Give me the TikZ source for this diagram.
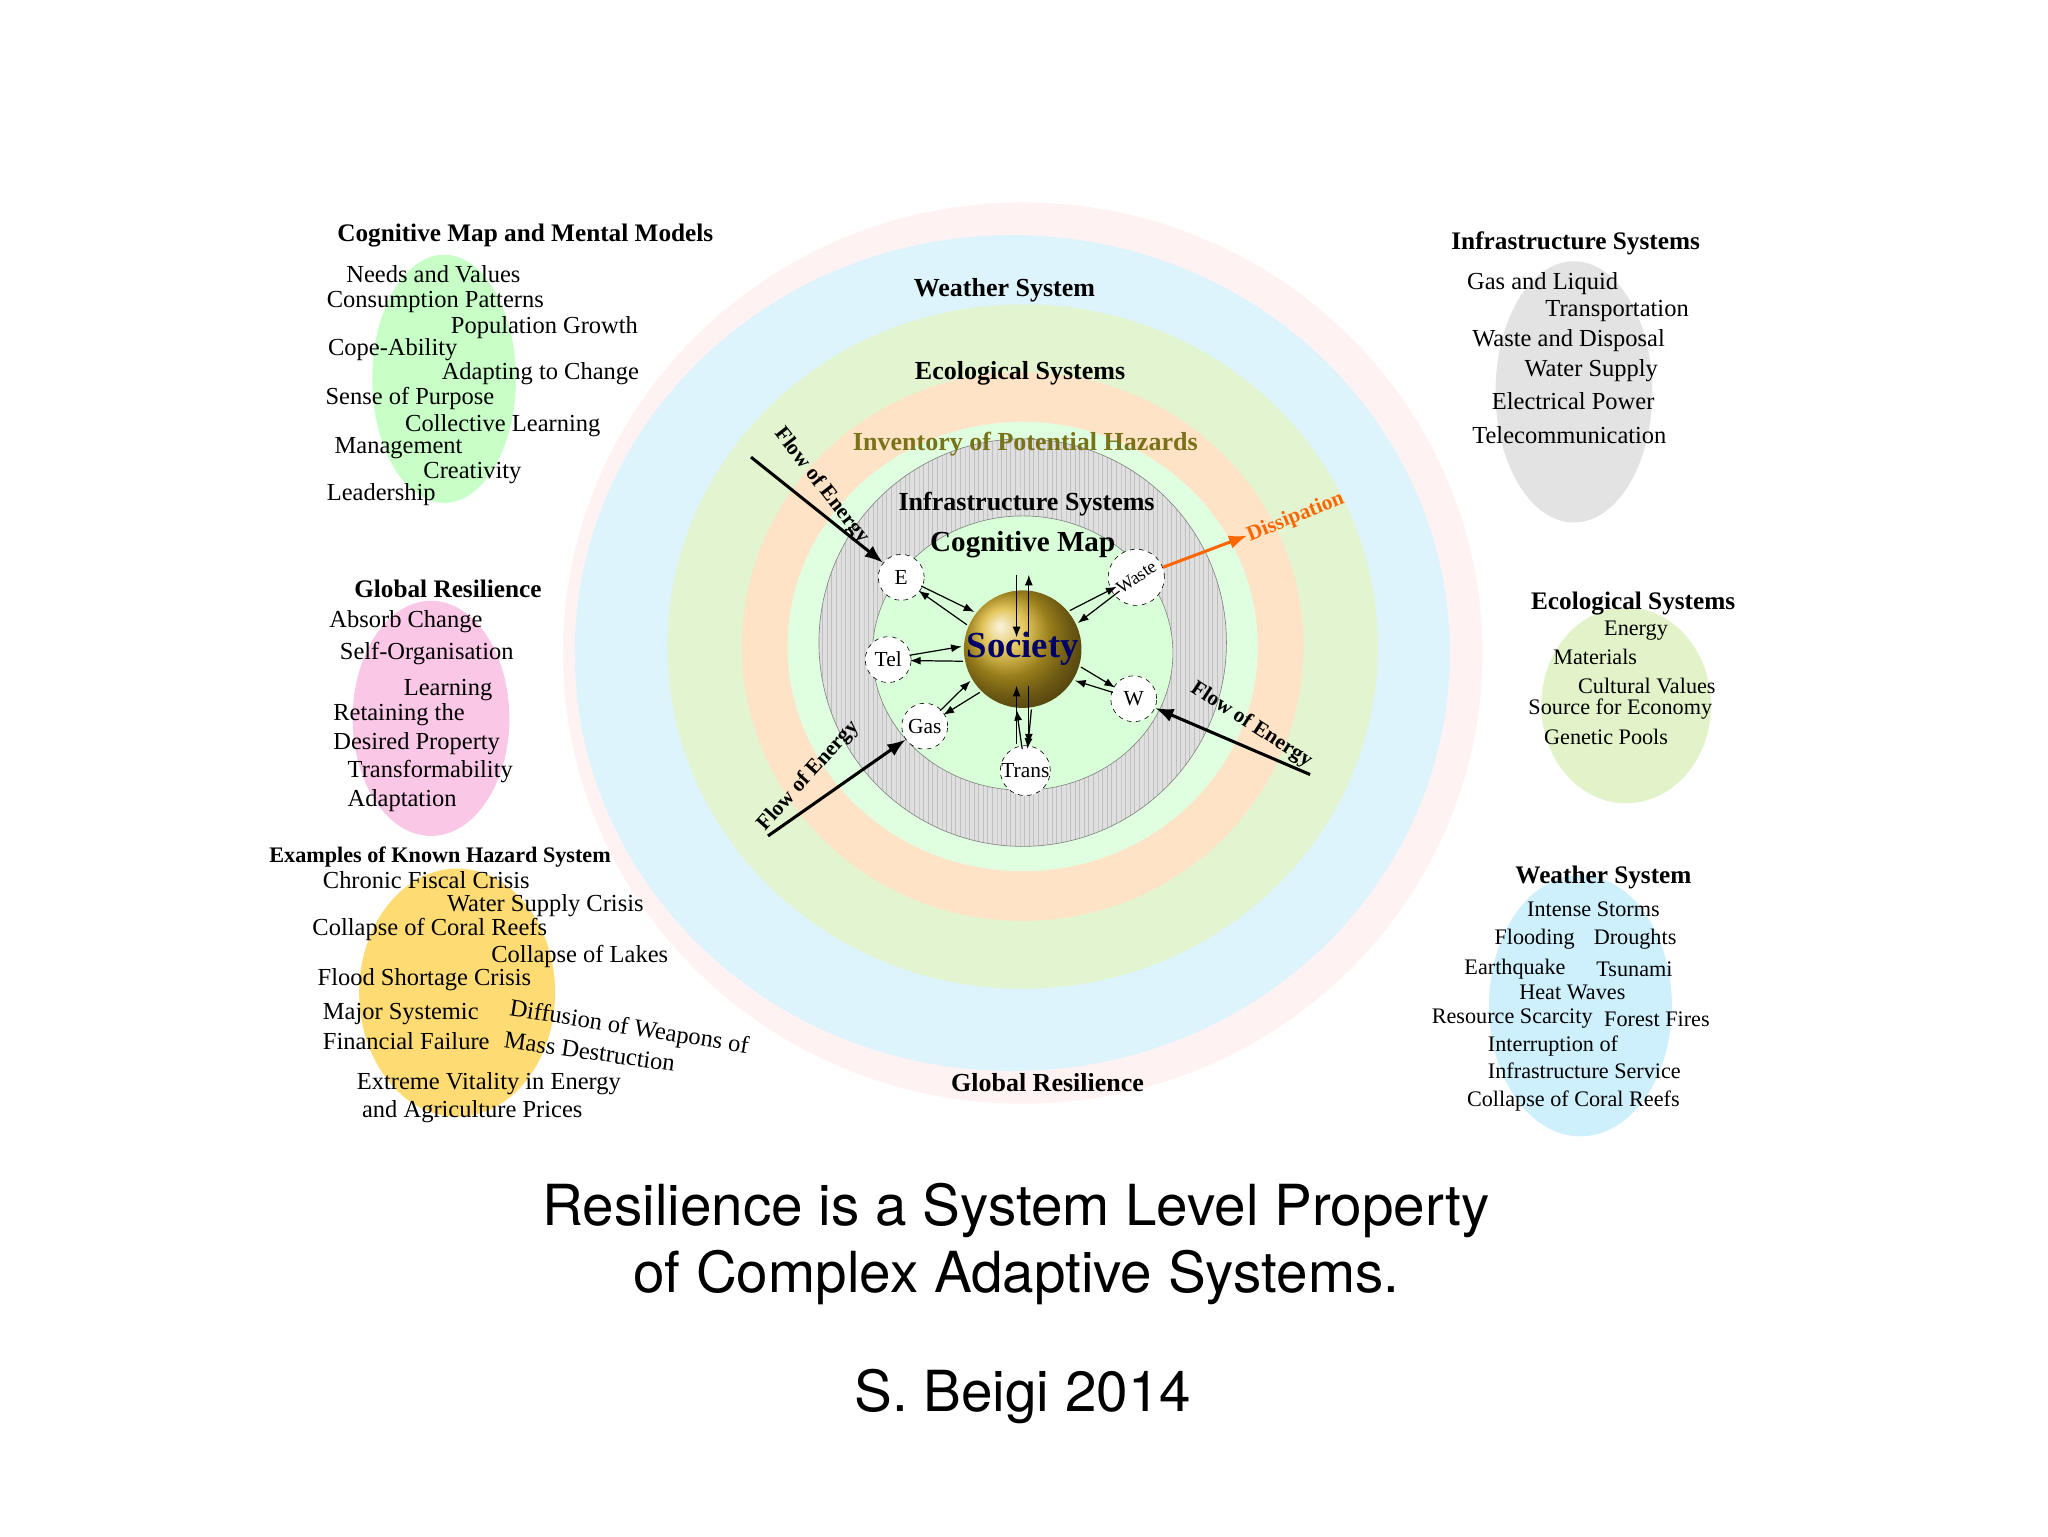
\documentclass[tikz,border=0pt]{standalone}
\usepackage{fontspec}
\setmainfont{Liberation Serif}
\newfontfamily\capfont{TeX Gyre Heros}
\usetikzlibrary{patterns,arrows.meta,shapes.geometric,calc}
\begin{document}
\begin{tikzpicture}[x=0.03cm,y=-0.03cm,
  t/.style={anchor=west,inner sep=0,font=\fontsize{16}{19}\selectfont},
  ts/.style={anchor=west,inner sep=0,font=\fontsize{14.5}{17}\selectfont},
  h/.style={anchor=west,inner sep=0,font=\fontsize{16.5}{20}\selectfont\bfseries},
  hc/.style={inner sep=0,font=\fontsize{17}{20}\selectfont\bfseries},
  sm/.style={circle,draw,dashed,fill=white,minimum size=30,inner sep=0,font=\fontsize{14}{16}\selectfont},
  arr/.style={-{Latex[length=7pt]},thick},
  flow/.style={-{Latex[length=12pt]},line width=2pt},
  fl/.style={inner sep=0,font=\fontsize{14}{16}\selectfont\bfseries},
  blob/.style={opacity=0.55}]
\useasboundingbox (0,0) rectangle (1568,1176);
% rings
\fill[pink!20] (783,500) ellipse (352 and 345);
\fill[cyan!13] (775,500) ellipse (335 and 320);
\fill[yellow!40!green!18] (783,495) ellipse (272 and 262);
\fill[orange!22] (783,495) ellipse (215 and 210);
\fill[green!12] (783,495) ellipse (180 and 172);
\fill[gray!25] (783,492) circle (156);
\fill[pattern=vertical lines,pattern color=gray!50] (783,492) circle (156);
\draw[gray] (783,492) circle (156);
\fill[green!15!white,draw=gray] (783,500) ellipse (115 and 105);
\shade[ball color=brown!60!yellow] (783,497) circle (45);
% blobs
\fill[blob,green!40] (340,290) ellipse (55 and 95);
\fill[blob,magenta!40] (330,550) ellipse (60 and 90);
\fill[blob,orange!50!yellow] (350,760) ellipse (75 and 95);
\fill[blob,gray!40] (1205,300) ellipse (60 and 100);
\fill[blob,yellow!50!green!40] (1245,540) ellipse (65 and 75);
\fill[blob,cyan!35] (1210,770) ellipse (70 and 100);
% center labels
\node[hc] (ws) at (769,222) {Weather System};
\node[hc] (es) at (781,286) {Ecological Systems};
\node[hc,text=olive!80!black] (iph) at (785,340) {Inventory of Potential Hazards};
\node[hc] (is) at (786,386) {Infrastructure Systems};
\node[hc,font=\fontsize{19}{22}\selectfont\bfseries] (cm) at (783,417) {Cognitive Map};
\node[hc] (gr) at (802,829) {Global Resilience};
\coordinate (sc) at (783,497);
% small nodes
\node[sm] (E) at (690,442) {E};
\node[sm] (Tel) at (680,505) {Tel};
\node[sm] (Gas) at (708,556) {Gas};
\node[sm] (Trans) at (785,590) {Trans};
\node[sm] (W) at (868,535) {W};
\node[sm,font=\fontsize{12}{14}\selectfont] (Waste) at (870,442) {\rotatebox{35}{Waste}};
\foreach \n in {E,Tel,Gas,Trans,W,Waste}{
  \draw[arr] ($(sc)!1.4cm!7:(\n)$) -- ($(\n)!0.5cm!-7:(sc)$);
  \draw[arr] ($(\n)!0.5cm!7:(sc)$) -- ($(sc)!1.4cm!-7:(\n)$);
}
\coordinate (top) at (783,440);
\draw[arr] ([xshift=-4pt]top) -- ++(0,48);
\draw[arr] ([xshift=4pt]top) ++(0,48) -- ++(0,-48);
\coordinate (bot) at (783,570);
\draw[arr] ([xshift=-4pt]bot) -- ++(0,-45);
\draw[arr] ([xshift=4pt]bot) ++(0,-45) -- ++(0,45);
\node[inner sep=0,font=\fontsize{24}{26}\selectfont\bfseries,text=blue!40!black] (soc) at (783,497) {Society};
% flows
\coordinate (f1) at (575,350); \coordinate (f2) at (588,640); \coordinate (f3) at (1003,593);
\draw[flow] (f1) -- (E);
\draw[flow] (f2) -- (Gas);
\draw[flow] (f3) -- (W);
\node[fl,rotate=-52] at (629,372) {Flow of Energy};
\node[fl,rotate=48] at (619,594) {Flow of Energy};
\node[fl,rotate=-33] at (958,555) {Flow of Energy};
\coordinate (d1) at (955,410);
\draw[flow,orange!80!red] (Waste) -- (d1);
\node[fl,rotate=22,text=orange!80!red] at (992,396) {Dissipation};
% left lists
\node[h] at (258,180) {Cognitive Map and Mental Models};
\node[t] at (265,210) {Needs and Values};
\node[t] at (250,231) {Consumption Patterns};
\node[t] at (345,251) {Population Growth};
\node[t] at (251,268) {Cope-Ability};
\node[t] at (338,286) {Adapting to Change};
\node[t] at (249,305) {Sense of Purpose};
\node[t] at (310,326) {Collective Learning};
\node[t] at (256,343) {Management};
\node[t] at (324,362) {Creativity};
\node[t] at (250,379) {Leadership};
\node[h] at (271,451) {Global Resilience};
\node[t] at (252,476) {Absorb Change};
\node[t] at (260,500) {Self-Organisation};
\node[t] at (309,528) {Learning};
\node[t] at (255,547) {Retaining the};
\node[t] at (255,569) {Desired Property};
\node[t] at (266,591) {Transformability};
\node[t] at (266,613) {Adaptation};
\node[h,font=\fontsize{14.5}{18}\selectfont\bfseries] at (206,656) {Examples of Known Hazard System};
\node[t] at (247,674) {Chronic Fiscal Crisis};
\node[t] at (342,693) {Water Supply Crisis};
\node[t] at (239,712) {Collapse of Coral Reefs};
\node[t] at (376,732) {Collapse of Lakes};
\node[t] at (243,750) {Flood Shortage Crisis};
\node[t] at (247,776) {Major Systemic};
\node[t] at (247,797) {Financial Failure};
\node[t,rotate=-9] at (390,773) {Diffusion of Weapons of};
\node[t,rotate=-8] at (386,796) {Mass Destruction};
\node[t] at (273,830) {Extreme Vitality in Energy};
\node[t] at (277,851) {and Agriculture Prices};
% right lists
\node[h] at (1111,186) {Infrastructure Systems};
\node[t] at (1123,217) {Gas and Liquid};
\node[t] at (1183,238) {Transportation};
\node[t] at (1127,261) {Waste and Disposal};
\node[t] at (1167,284) {Water Supply};
\node[t] at (1142,307) {Electrical Power};
\node[t] at (1127,333) {Telecommunication};
\node[h] at (1172,462) {Ecological Systems};
\node[ts] at (1228,483) {Energy};
\node[ts] at (1189,503) {Materials};
\node[ts] at (1208,525) {Cultural Values};
\node[ts] at (1170,543) {Source for Economy};
\node[ts] at (1182,564) {Genetic Pools};
\node[h] at (1160,672) {Weather System};
\node[ts] at (1169,696) {Intense Storms};
\node[ts] at (1144,719) {Flooding};
\node[ts] at (1220,719) {Droughts};
\node[ts] at (1121,742) {Earthquake};
\node[ts] at (1222,742) {Tsunami};
\node[ts] at (1163,760) {Heat Waves};
\node[ts] at (1096,780) {Resource Scarcity};
\node[ts] at (1228,780) {Forest Fires};
\node[ts] at (1139,801) {Interruption of};
\node[ts] at (1139,820) {Infrastructure Service};
\node[ts] at (1123,843) {Collapse of Coral Reefs};
% caption
\node[inner sep=0,font=\capfont\fontsize{37}{44}\selectfont] at (778,927) {Resilience is a System Level Property};
\node[inner sep=0,font=\capfont\fontsize{37}{44}\selectfont] at (778,978) {of Complex Adaptive Systems.};
\node[inner sep=0,font=\capfont\fontsize{37}{44}\selectfont] at (783,1069) {S. Beigi 2014};
\end{tikzpicture}
\end{document}
